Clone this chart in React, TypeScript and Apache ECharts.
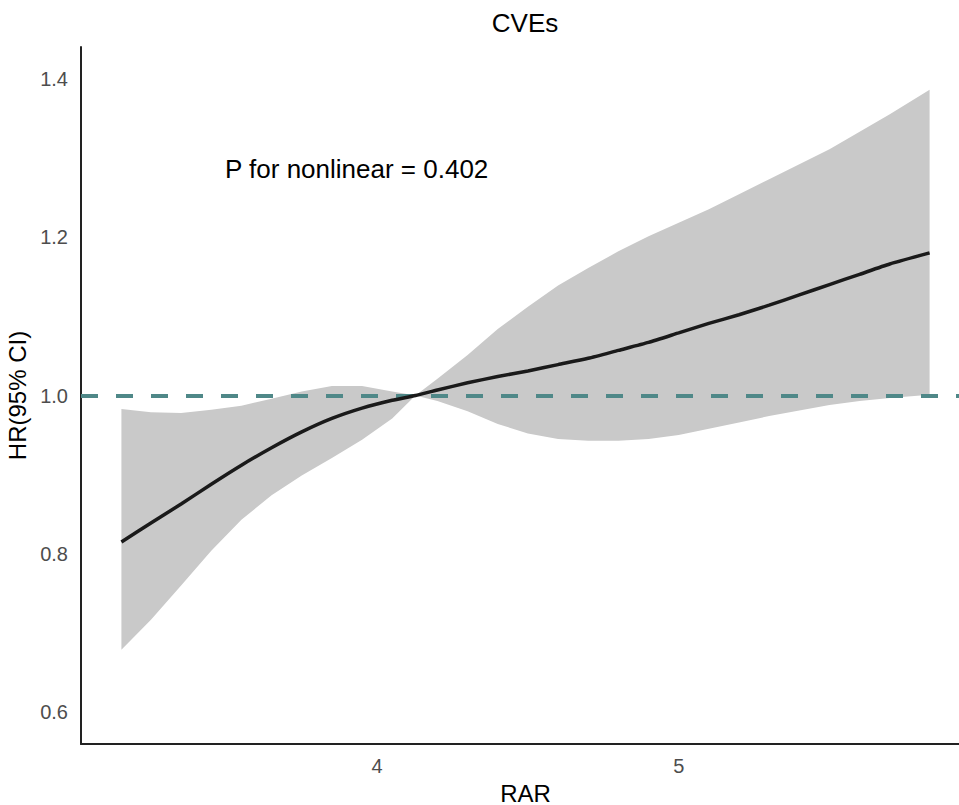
import React, { useEffect, useRef } from "react";
import * as echarts from "echarts";

// RAR values (x) at which the spline curve and its 95% CI were read
const rar = [3.152, 3.25, 3.35, 3.45, 3.55, 3.65, 3.75, 3.85, 3.95, 4.05, 4.127, 4.2, 4.3, 4.4, 4.5, 4.6, 4.7, 4.8, 4.9, 5.0, 5.1, 5.2, 5.3, 5.4, 5.5, 5.6, 5.7, 5.832];
// Hazard ratio estimate
const hr = [0.815, 0.839, 0.863, 0.888, 0.912, 0.934, 0.954, 0.971, 0.984, 0.994, 1.0, 1.007, 1.016, 1.024, 1.031, 1.039, 1.047, 1.057, 1.067, 1.079, 1.091, 1.102, 1.114, 1.127, 1.14, 1.153, 1.166, 1.18];
// Lower 95% CI
const lower = [0.679, 0.717, 0.76, 0.804, 0.843, 0.874, 0.899, 0.921, 0.944, 0.971, 1.0, 0.993, 0.98, 0.964, 0.952, 0.945, 0.943, 0.943, 0.945, 0.95, 0.958, 0.966, 0.974, 0.981, 0.988, 0.993, 0.997, 1.001];
// Upper 95% CI
const upper = [0.983, 0.979, 0.978, 0.982, 0.987, 0.996, 1.005, 1.012, 1.012, 1.005, 1.0, 1.021, 1.051, 1.084, 1.112, 1.139, 1.161, 1.182, 1.201, 1.218, 1.235, 1.254, 1.273, 1.292, 1.311, 1.333, 1.355, 1.386];

const xTicks = [4, 5];
const yTicks = [0.6, 0.8, 1.0, 1.2, 1.4];
const refValue = 1;

const titleText = "CVEs";
const annotationText = "P for nonlinear = 0.402";
const xName = "RAR";
const yName = "HR(95% CI)";

const FONT = "'Liberation Sans', Arial, Helvetica, sans-serif";

export default function App() {
  const ref = useRef<HTMLDivElement>(null);

  useEffect(() => {
    if (!ref.current) return;
    const chart = echarts.init(ref.current, null, { renderer: "svg" });

    const bandData = rar.map((x, i) => [x, lower[i], upper[i]]);
    const hrData = rar.map((x, i) => [x, hr[i]]);

    chart.setOption({
      animation: false,
      backgroundColor: "#ffffff",
      grid: {
        left: 81,
        top: 47,
        width: 889,
        height: 697,
        containLabel: false,
        outerBoundsMode: "none",
      },
      xAxis: {
        type: "value",
        min: 3.018,
        max: 5.966,
        axisLine: { show: true, onZero: false, lineStyle: { color: "#222222", width: 2 } },
        axisTick: { show: false },
        splitLine: { show: false },
        axisLabel: {
          customValues: xTicks,
          fontSize: 20,
          color: "#4d4d4d",
          fontFamily: FONT,
          margin: 12,
          formatter: (v: number) => String(v),
        },
        name: xName,
        nameLocation: "middle",
        nameGap: 37,
        nameTextStyle: { fontSize: 24, lineHeight: 24, color: "#000000", fontFamily: FONT },
      },
      yAxis: {
        type: "value",
        min: 0.56,
        max: 1.44,
        axisLine: { show: true, onZero: false, lineStyle: { color: "#222222", width: 2 } },
        axisTick: { show: false },
        splitLine: { show: false },
        axisLabel: {
          customValues: yTicks,
          fontSize: 20,
          color: "#4d4d4d",
          fontFamily: FONT,
          margin: 13,
          padding: [5, 0, 0, 0],
          formatter: (v: number) => v.toFixed(1),
        },
        name: yName,
        nameLocation: "middle",
        nameGap: 45,
        nameTextStyle: { fontSize: 24, color: "#000000", fontFamily: FONT },
      },
      graphic: [
        {
          type: "text",
          x: 525,
          y: 23,
          style: {
            text: titleText,
            fontSize: 26,
            fontFamily: FONT,
            fill: "#000000",
            align: "center",
            verticalAlign: "middle",
          },
        },
        {
          type: "text",
          x: 225,
          y: 169,
          style: {
            text: annotationText,
            fontSize: 26,
            fontFamily: FONT,
            fill: "#000000",
            align: "left",
            verticalAlign: "middle",
          },
        },
      ],
      series: [
        {
          name: "95% CI",
          type: "custom",
          data: bandData,
          encode: { x: 0, y: [1, 2] },
          silent: true,
          z: 1,
          renderItem: (params: any, api: any) => {
            if (params.dataIndex !== 0) return null;
            const pts: number[][] = [];
            for (let i = 0; i < rar.length; i++) pts.push(api.coord([rar[i], upper[i]]));
            for (let i = rar.length - 1; i >= 0; i--) pts.push(api.coord([rar[i], lower[i]]));
            return {
              type: "polygon",
              shape: { points: pts },
              style: { fill: "#c9c9c9", stroke: "none" },
            };
          },
        },
        {
          name: "ref",
          type: "line",
          data: [],
          symbol: "none",
          silent: true,
          z: 3,
          markLine: {
            silent: true,
            symbol: "none",
            label: { show: false },
            lineStyle: { color: "#4f8888", width: 4, type: [17, 18] },
            data: [{ yAxis: refValue }],
          },
        },
        {
          name: "HR",
          type: "line",
          data: hrData,
          symbol: "none",
          smooth: 0.2,
          lineStyle: { color: "#1a1a1a", width: 3.5 },
          z: 5,
        },
      ],
    });

    return () => chart.dispose();
  }, []);

  return (
    <div
      style={{
        position: "fixed",
        left: 0,
        top: 0,
        width: 959,
        height: 805,
        overflow: "hidden",
        background: "#ffffff",
      }}
    >
      <div ref={ref} style={{ width: 1000, height: 805 }} />
    </div>
  );
}
